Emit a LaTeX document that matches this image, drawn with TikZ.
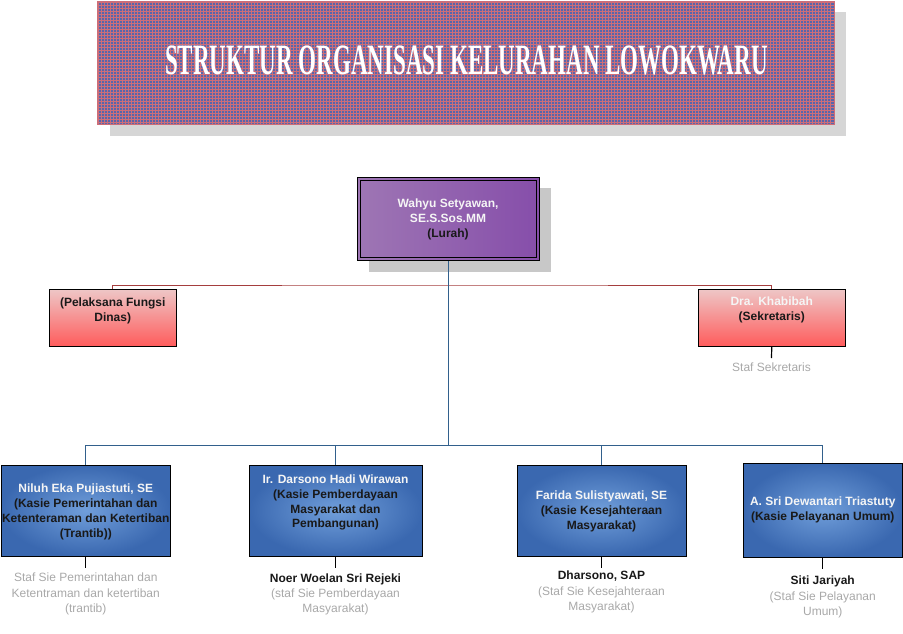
\documentclass[tikz,border=0pt]{standalone}
\usepackage{fontspec}
\setmainfont{Liberation Sans}
\newfontfamily\titlefont{Liberation Serif}
\usetikzlibrary{calc}
\definecolor{bannerblue}{RGB}{88,102,172}
\definecolor{gridpink}{RGB}{205,110,120}
\definecolor{shadowgray}{RGB}{214,214,214}
\definecolor{lurahshadow}{RGB}{200,200,200}
\definecolor{blueline}{RGB}{50,96,140}
\definecolor{redline}{RGB}{165,62,62}
\definecolor{stafgray}{RGB}{168,168,168}
\definecolor{darktext}{RGB}{25,25,25}
\definecolor{nametext}{RGB}{245,245,245}
\definecolor{purpleL}{RGB}{158,118,180}
\definecolor{purpleR}{RGB}{134,78,170}
\definecolor{blueIn}{RGB}{112,158,218}
\definecolor{blueOut}{RGB}{58,104,176}
\definecolor{pinkTop}{RGB}{238,198,198}
\definecolor{pinkBot}{RGB}{255,92,92}
\tikzset{
  boxtext/.style={inner sep=0pt, align=center, font=\fontsize{9}{11.2}\selectfont\bfseries, text=darktext},
  staftext/.style={inner sep=0pt, align=center, font=\fontsize{9}{11.5}\selectfont, text=stafgray},
  bluebox/.style={draw=black, line width=0.75pt, inner sep=0pt, inner color=blueIn, outer color=blueOut},
  pinkbox/.style={draw=black, line width=0.75pt, inner sep=0pt, top color=pinkTop, bottom color=pinkBot},
  bluecon/.style={draw=blueline, line width=0.75pt},
  redcon/.style={draw=redline, line width=0.75pt},
  stafcon/.style={draw=black, line width=0.9pt},
}
\begin{document}
\begin{tikzpicture}[x=0.75pt,y=-0.75pt]
\useasboundingbox (0,0) rectangle (903,633);
% title banner
\fill[shadowgray] (110,12) rectangle (846,136);
\fill[bannerblue] (97,1) rectangle (834,124);
\foreach \x in {98.5,101.5,...,833} \draw[gridpink, line width=0.7pt] (\x,1) -- (\x,124);
\foreach \y in {2.5,5.5,...,123} \draw[gridpink, line width=0.7pt] (97,\y) -- (834,\y);
\draw[gridpink, line width=0.75pt] (97,1) rectangle (834,124);
\node[inner sep=0pt, text=white, font=\titlefont\bfseries] (title) at (466.5,60)
  {\resizebox{452pt}{21.5pt}{STRUKTUR ORGANISASI KELURAHAN LOWOKWARU}};
% Lurah
\fill[lurahshadow] (369,188) rectangle (551,272);
\node[draw=black, line width=0.75pt, inner sep=0pt, minimum width=136.5pt, minimum height=62.6pt,
  left color=purpleL, right color=purpleR] (lurah) at (448,218.75) {};
\draw[black, line width=0.75pt] (360,180) rectangle (536,257.5);
\node[boxtext] (lurahT) at (448,219) {\textcolor{nametext}{Wahyu Setyawan,}\\\textcolor{nametext}{SE.S.Sos.MM}\\(Lurah)};
% second row
\node[pinkbox, minimum width=95.6pt, minimum height=42.4pt] (pfd) at (112.75,317.75) {};
\node[boxtext] (pfdT) at (112.75,311) {(Pelaksana Fungsi\\Dinas)};
\node[pinkbox, minimum width=110.6pt, minimum height=42.4pt] (sek) at (771.75,317.75) {};
\node[boxtext] (sekT) at (771.75,309.5) {\textcolor{nametext}{Dra. Khabibah}\\(Sekretaris)};
\node[staftext] (ss) at (771.5,367) {Staf Sekretaris};
\coordinate (ssc) at (771.5,358);
% third row
\node[bluebox, minimum width=127.1pt, minimum height=68.25pt] (k1) at (85.75,510.5) {};
\node[boxtext] (k1T) at (85.75,511.5) {\textcolor{nametext}{Niluh Eka Pujiastuti, SE}\\(Kasie Pemerintahan dan\\Ketenteraman dan Ketertiban\\(Trantib))};
\node[bluebox, minimum width=129.75pt, minimum height=68.25pt] (k2) at (335.5,510.5) {};
\node[boxtext] (k2T) at (335.5,502.5) {\textcolor{nametext}{Ir. Darsono Hadi Wirawan}\\(Kasie Pemberdayaan\\Masyarakat dan\\Pembangunan)};
\node[bluebox, minimum width=126.75pt, minimum height=68.25pt] (k3) at (601.5,510.5) {};
\node[boxtext] (k3T) at (601.5,511) {\textcolor{nametext}{Farida Sulistyawati, SE}\\(Kasie Kesejahteraan\\Masyarakat)};
\node[bluebox, minimum width=119.6pt, minimum height=70.5pt] (k4) at (822.75,510) {};
\node[boxtext] (k4T) at (822.75,509.5) {\textcolor{nametext}{A. Sri Dewantari Triastuty}\\(Kasie Pelayanan Umum)};
% staff
\node[staftext] (s1) at (85.75,594) {Staf Sie Pemerintahan dan\\Ketentraman dan ketertiban\\(trantib)};
\node[staftext] (s2) at (335.5,594.5) {\textcolor{darktext}{\bfseries Noer Woelan Sri Rejeki}\\(staf Sie Pemberdayaan\\Masyarakat)};
\node[staftext] (s3) at (601.5,592) {\textcolor{darktext}{\bfseries Dharsono, SAP}\\(Staf Sie Kesejahteraan\\Masyarakat)};
\node[staftext] (s4) at (822.75,597) {\textcolor{darktext}{\bfseries Siti Jariyah}\\(Staf Sie Pelayanan\\Umum)};
\coordinate (c1) at (85.75,568);
\coordinate (c2) at (335.5,568);
\coordinate (c3) at (601.5,568);
\coordinate (c4) at (822.75,569);
% connectors
\coordinate (rb) at (448,285);
\coordinate (bb) at (448,445);
\draw[redcon] (pfd.north) |- (rb) -| (sek.north);
\draw[bluecon] (lurah.south) -- (bb);
\draw[bluecon] (bb) -| (k1.north);
\draw[bluecon] (bb) -| (k2.north);
\draw[bluecon] (bb) -| (k3.north);
\draw[bluecon] (bb) -| (k4.north);
\draw[stafcon] (sek.south) -- (ssc);
\draw[stafcon] (k1.south) -- (c1);
\draw[stafcon] (k2.south) -- (c2);
\draw[stafcon] (k3.south) -- (c3);
\draw[stafcon] (k4.south) -- (c4);
\end{tikzpicture}
\end{document}
